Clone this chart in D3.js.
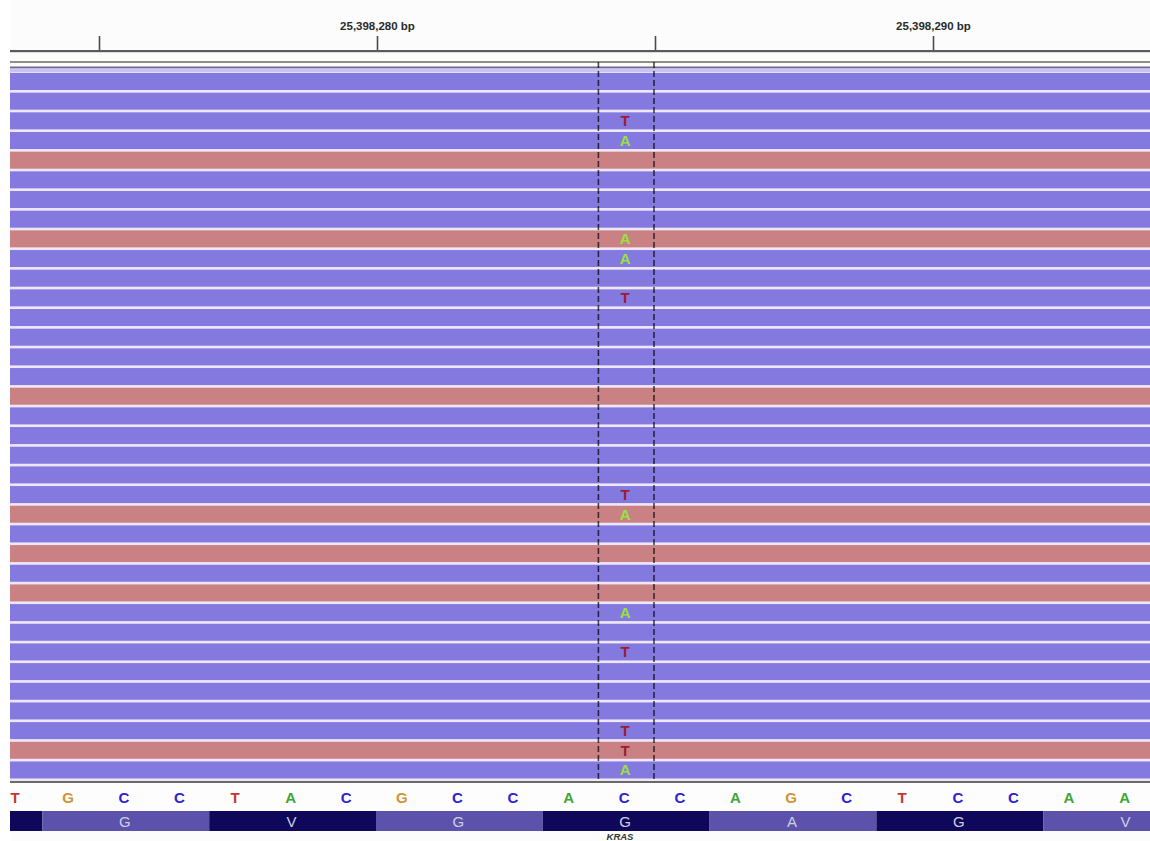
<!DOCTYPE html>
<html>
<head>
<meta charset="utf-8">
<script src="https://cdn.jsdelivr.net/npm/d3@7"></script>
<style>
  html, body { margin: 0; padding: 0; background: #ffffff; }
  svg { display: block; }
</style>
</head>
<body>
<svg id="chart" width="1150" height="841"></svg>
<script>
// ---------------- DATA ----------------
const refStart = 25398274;            // genomic position of first visible reference base
const refBases = ["T","G","C","C","T","A","C","G","C","C","A","C","C","A","G","C","T","C","C","A","A"];
const codonStarts = [25398271, 25398274, 25398277, 25398280, 25398283, 25398286, 25398289, 25398292];
const aminoAcids = ["K","G","V","G","G","A","G","V"];
const tickValues = [25398275, 25398280, 25398285, 25398290];
const tickLabels = ["", "25,398,280 bp", "", "25,398,290 bp"];
const readStrands = ["-","-","-","-","+","-","-","-","+","-","-","-","-","-","-","-","+","-",
                     "-","-","-","-","+","-","+","-","+","-","-","-","-","-","-","-","+","-"];
const mismatchRows = [2, 3, 8, 9, 11, 21, 22, 27, 29, 33, 34, 35];
const mismatchBases = ["T","A","A","A","T","T","A","A","T","T","T","A"];
const variantPos = 25398285;
const geneName = "KRAS";

// ---------------- STYLE ----------------
const W = 1150, H = 841;
const left = 10;
const strandColor = {"-": "#8379df", "+": "#c98183"};
const seqColor = {A: "#3fa535", C: "#2f22d0", G: "#cf9437", T: "#c8352e"};
const misColor = {A: "#98e23f", T: "#9c1d33", C: "#2f22d0", G: "#cf9437"};

const svg = d3.select("#chart");
svg.append("defs").append("clipPath").attr("id", "clip")
  .append("rect").attr("x", left).attr("y", 0).attr("width", W - left).attr("height", H);

const g = svg.append("g").attr("clip-path", "url(#clip)");

// scales
const x = d3.scaleLinear().domain([25398280, 25398290]).range([377, 933]);
const rowStep = 19.67, rowH = 17, rowTop = 73;
const y = d3.scaleLinear().domain([0, 1]).range([rowTop, rowTop + rowStep]);

// background
g.append("rect").attr("x", left).attr("y", 0).attr("width", W - left).attr("height", H).attr("fill", "#fcfcfc");

// ---------------- RULER ----------------
const axis = d3.axisTop(x).tickValues(tickValues).tickSize(15)
  .tickFormat((d, i) => tickLabels[i]);
const ax = g.append("g").attr("transform", "translate(0,51)").call(axis);
ax.select(".domain").remove();
ax.selectAll(".tick line").attr("stroke", "#4a4a4a").attr("stroke-width", 1.6);
ax.selectAll(".tick text").attr("font-family", "Liberation Sans, Arial, sans-serif")
  .attr("font-weight", "bold").attr("font-size", 11.5).attr("fill", "#2a2a2a")
  .attr("dy", 0).attr("y", -21);
g.append("rect").attr("x", left).attr("y", 50).attr("width", W - left).attr("height", 2.2).attr("fill", "#5a5a5a");

// separator lines above reads
g.append("rect").attr("x", left).attr("y", 61).attr("width", W - left).attr("height", 2).attr("fill", "#8f8f88");
g.append("rect").attr("x", left).attr("y", 66.5).attr("width", W - left).attr("height", 2).attr("fill", "#6e6c84");
g.append("rect").attr("x", left).attr("y", 68.5).attr("width", W - left).attr("height", 4).attr("fill", "#c9c2f3");

// ---------------- READS ----------------
g.append("rect").attr("x", left).attr("y", rowTop).attr("width", W - left)
  .attr("height", y(readStrands.length) - rowTop).attr("fill", "#efe6f7");
g.selectAll("rect.read").data(readStrands).enter().append("rect")
  .attr("class", "read")
  .attr("x", left).attr("width", W - left)
  .attr("y", (d, i) => y(i))
  .attr("height", rowH)
  .attr("fill", d => strandColor[d]);

// mismatch letters
g.selectAll("text.mis").data(mismatchRows).enter().append("text")
  .attr("class", "mis")
  .attr("x", x(variantPos - 0.5) - 2)
  .attr("y", d => y(d) + rowH / 2 + 5.5)
  .attr("text-anchor", "middle")
  .attr("font-family", "Liberation Sans, Arial, sans-serif")
  .attr("font-weight", "bold").attr("font-size", 15)
  .attr("fill", (d, i) => misColor[mismatchBases[i]])
  .text((d, i) => mismatchBases[i]);

// dashed center lines
[variantPos - 1, variantPos].forEach(p => {
  g.append("line")
    .attr("x1", x(p) - 1).attr("x2", x(p) - 1)
    .attr("y1", 62).attr("y2", y(readStrands.length) - 2)
    .attr("stroke", "#000").attr("stroke-opacity", 0.7)
    .attr("stroke-width", 1.6).attr("stroke-dasharray", "6,3");
});

// ---------------- SEQUENCE TRACK ----------------
g.append("rect").attr("x", left).attr("y", 781).attr("width", W - left).attr("height", 2).attr("fill", "#6a6a6a");
g.append("rect").attr("x", left).attr("y", 783).attr("width", W - left).attr("height", 27).attr("fill", "#fdfdfd");
g.selectAll("text.base").data(refBases).enter().append("text")
  .attr("class", "base")
  .attr("x", (d, i) => Math.max(x(refStart + i - 0.5) - 3, left + 5))
  .attr("y", 803)
  .attr("text-anchor", "middle")
  .attr("font-family", "Liberation Sans, Arial, sans-serif")
  .attr("font-weight", "bold").attr("font-size", 15)
  .attr("fill", d => seqColor[d])
  .text(d => d);

// ---------------- AMINO ACID TRACK ----------------
g.selectAll("rect.aa").data(codonStarts).enter().append("rect")
  .attr("class", "aa")
  .attr("x", d => x(d) - 1)
  .attr("width", d => x(d + 3) - x(d))
  .attr("y", 811).attr("height", 20)
  .attr("fill", (d, i) => i % 2 === 0 ? "#0e075a" : "#5c52ac");
const visibleCodons = codonStarts.map((d, i) => ({d, i})).filter(o => x(o.d + 1.5) > left);
g.selectAll("text.aa").data(visibleCodons).enter().append("text")
  .attr("class", "aa")
  .attr("x", o => x(o.d + 1.5) - 2)
  .attr("y", 827)
  .attr("text-anchor", "middle")
  .attr("font-family", "Liberation Sans, Arial, sans-serif")
  .attr("font-size", 15)
  .attr("fill", "#cfcfe0")
  .text(o => aminoAcids[o.i]);

// gene label
g.append("text")
  .attr("x", 620).attr("y", 840)
  .attr("text-anchor", "middle")
  .attr("font-family", "Liberation Sans, Arial, sans-serif")
  .attr("font-weight", "bold").attr("font-style", "italic").attr("font-size", 9.5)
  .attr("fill", "#333")
  .text(geneName);
</script>
</body>
</html>
